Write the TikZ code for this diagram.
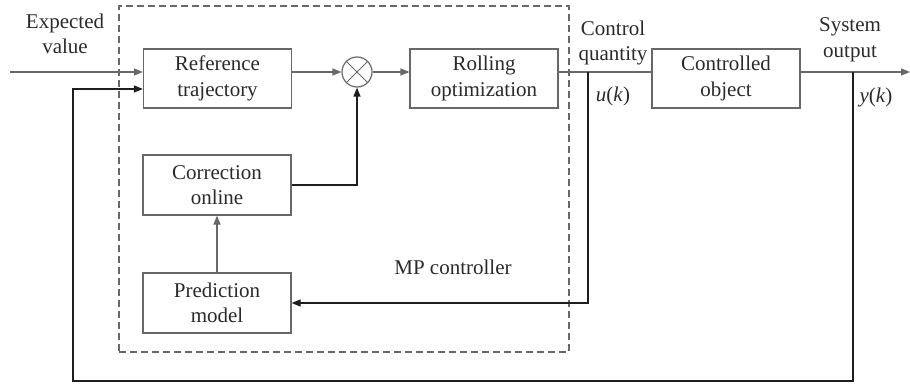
\documentclass[tikz,border=0pt]{standalone}
\usepackage{fontspec}
\setmainfont{Liberation Serif}
\usetikzlibrary{arrows.meta}
\definecolor{boxgray}{HTML}{686868}
\definecolor{txtgray}{HTML}{2A2A2A}
\definecolor{fbblack}{HTML}{1E1E1E}
\tikzset{
  blk/.style={draw=boxgray, line width=1.2pt, minimum width=148pt, minimum height=59pt,
    align=center, text=txtgray, font=\fontsize{21}{25.5}\selectfont, inner sep=0pt},
  lbl/.style={align=center, text=txtgray, font=\fontsize{21}{25.5}\selectfont, inner sep=0pt},
  gline/.style={draw=boxgray, line width=1.2pt},
  garrow/.style={gline, -{Triangle[length=9pt, width=7pt]}},
  kline/.style={draw=fbblack, line width=1.2pt},
  karrow/.style={kline, -{Triangle[length=9pt, width=7pt]}},
}
\begin{document}
\begin{tikzpicture}[x=1pt, y=-1pt]
\useasboundingbox (0,0) rectangle (910,385);

% MP controller frame
\node[draw=boxgray, dashed, dash pattern=on 7pt off 4pt, line width=1.2pt,
      minimum width=450pt, minimum height=346pt, inner sep=0pt] (mp) at (344,179) {};
\node[lbl] (mplabel) at (453,267) {MP controller};

% blocks
\node[blk] (ref)  at (217.5,78.5) {Reference\\trajectory};
\node[blk] (roll) at (484,78.5)   {Rolling\\optimization};
\node[blk] (ctrl) at (726,78.5)   {Controlled\\object};
\node[blk, minimum height=60pt] (corr) at (217,185) {Correction\\online};
\node[blk, minimum height=60pt] (pred) at (217,303) {Prediction\\model};

% multiplier junction
\node[circle, draw=boxgray, line width=1.2pt, minimum size=30pt, inner sep=0pt,
      path picture={
        \draw[boxgray, line width=1pt] (path picture bounding box.north west) -- (path picture bounding box.south east);
        \draw[boxgray, line width=1pt] (path picture bounding box.south west) -- (path picture bounding box.north east);
      }] (sum) at (357,72) {};

% signal coordinates
\coordinate (in)  at (10,72);
\coordinate (out) at (910,72);
\coordinate (uk)  at (588,72);
\coordinate (yk)  at (853,72);
\coordinate (fbb) at (853,381);
\coordinate (fbl) at (73,381);
\coordinate (fbt) at (73,89);

% forward path
\draw[garrow] (in) -- (in -| ref.west);
\draw[garrow] (ref.east |- sum) -- (sum.west);
\draw[garrow] (sum.east) -- (roll.west |- sum);
\draw[gline]  (roll.east |- sum) -- (ctrl.west |- sum);
\draw[garrow] (ctrl.east |- sum) -- (out);
\draw[garrow] (pred.north) -- (corr.south);

% feedback paths
\draw[karrow] (corr.east) -- (corr.east -| sum) -- (sum.south);
\draw[karrow] (uk) -- (uk |- pred.east) -- (pred.east);
\draw[karrow] (yk) -- (fbb) -- (fbl) -- (fbt) -- (fbt -| ref.west);

% signal labels
\node[lbl] (lexp) at (65,34)  {Expected\\value};
\node[lbl] (lcq)  at (613,43) {Control\\quantity};
\node[lbl] (luk)  at (613,96) {\textit{u}(\textit{k})};
\node[lbl] (lso)  at (850,40) {System\\output};
\node[lbl] (lyk)  at (876,97) {\textit{y}(\textit{k})};
\end{tikzpicture}
\end{document}
